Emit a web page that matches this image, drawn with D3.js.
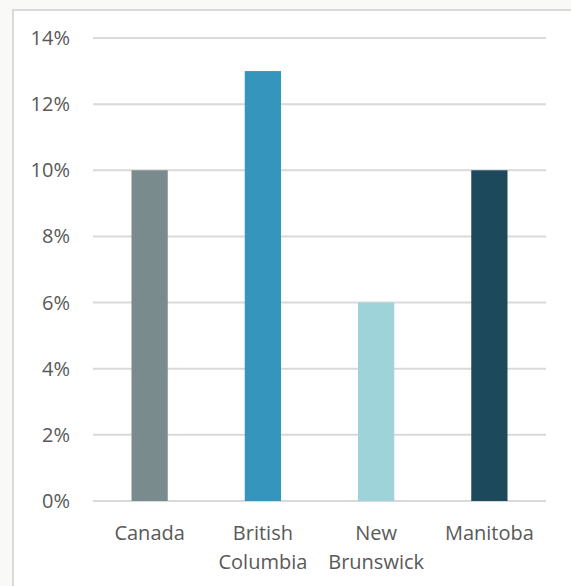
<!DOCTYPE html>
<html><head><meta charset="utf-8">
<script src="https://cdn.jsdelivr.net/npm/d3@7"></script>
<style>
html,body{margin:0;padding:0;background:#f9f9f7;}
svg{display:block;}
</style></head>
<body>
<script>
const categories = [["Canada"], ["British", "Columbia"], ["New", "Brunswick"], ["Manitoba"]];
const values = [0.10, 0.13, 0.06, 0.10];
const colors = ["#7a8b8d", "#3595bc", "#9ed3d9", "#1c4a5c"];
const tickValues = [0, 0.02, 0.04, 0.06, 0.08, 0.10, 0.12, 0.14];

const W = 571, H = 586;
const svg = d3.select("body").append("svg").attr("width", W).attr("height", H);
svg.append("rect").attr("x", 13).attr("y", 10).attr("width", W).attr("height", H)
  .attr("fill", "#fff").attr("stroke", "#d9d9d9").attr("stroke-width", 2);

const x0 = 93, x1 = 546, yTop = 38, yBot = 501;
const x = d3.scaleBand().domain(d3.range(categories.length)).range([x0, x1]).paddingInner(0.68).paddingOuter(0.34);
const y = d3.scaleLinear().domain([0, 0.14]).range([yBot, yTop]);

const font = "'Open Sans', sans-serif";
svg.append("g").selectAll("line").data(tickValues).join("line")
  .attr("x1", x0).attr("x2", x1).attr("y1", d => y(d)).attr("y2", d => y(d))
  .attr("stroke", "#d9d9d9").attr("stroke-width", 2);

svg.append("g").selectAll("text").data(tickValues).join("text")
  .attr("x", 70).attr("y", d => y(d)).attr("dy", "0.35em").attr("text-anchor", "end")
  .attr("font-family", font).attr("font-size", 20).attr("fill", "#595959")
  .text(d => d3.format(".0%")(d));

svg.append("g").selectAll("rect").data(values).join("rect")
  .attr("x", (d, i) => x(i)).attr("width", x.bandwidth())
  .attr("y", d => y(d)).attr("height", d => yBot - y(d))
  .attr("fill", (d, i) => colors[i]);

const lab = svg.append("g").selectAll("text").data(categories).join("text")
  .attr("text-anchor", "middle").attr("font-family", font).attr("font-size", 20).attr("fill", "#595959")
  .attr("transform", (d, i) => `translate(${x(i) + x.bandwidth() / 2},540)`);
lab.selectAll("tspan").data(d => d).join("tspan")
  .attr("x", 0).attr("y", (d, j) => j * 29).text(d => d);
</script>
</body></html>
